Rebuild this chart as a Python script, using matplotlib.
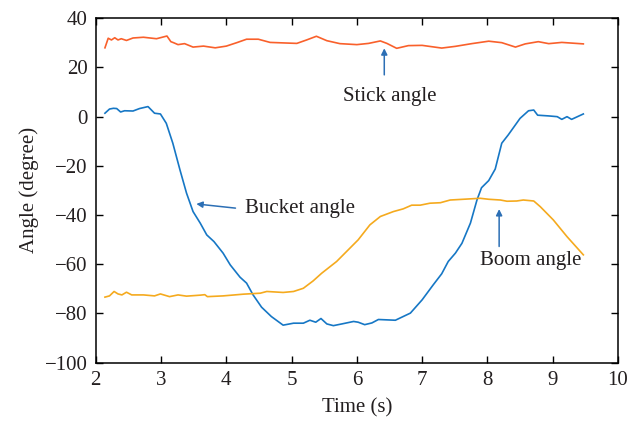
import numpy as np
import matplotlib.pyplot as plt

plt.rcParams['font.family'] = ['Liberation Serif', 'DejaVu Serif']

# stick angle (deg) vs time (s)
stick_t = [2.14, 2.19, 2.24, 2.29, 2.34, 2.39, 2.47, 2.57, 2.73, 2.93, 3.09, 3.15, 3.19, 3.26,
           3.36, 3.49, 3.65, 3.83, 4.00, 4.16, 4.31, 4.49, 4.67, 4.87, 5.08, 5.23, 5.38, 5.54,
           5.74, 6.00, 6.18, 6.36, 6.46, 6.61, 6.79, 7.00, 7.30, 7.51, 7.76, 8.02, 8.22, 8.43,
           8.58, 8.78, 8.94, 9.14, 9.47]
stick_a = [28.0, 31.9, 31.2, 32.1, 31.2, 31.7, 31.0, 32.0, 32.3, 31.7, 32.8, 30.5, 30.1, 29.3,
           29.7, 28.3, 28.7, 28.0, 28.7, 30.1, 31.5, 31.5, 30.2, 30.0, 29.8, 31.2, 32.7, 30.9,
           29.7, 29.3, 29.8, 30.8, 29.8, 27.8, 28.9, 29.0, 27.9, 28.6, 29.7, 30.7, 30.1, 28.3,
           29.6, 30.5, 29.7, 30.2, 29.6]

# bucket angle
bucket_t = [2.14, 2.21, 2.27, 2.32, 2.38, 2.44, 2.57, 2.67, 2.80, 2.90, 2.99, 3.08, 3.18, 3.29,
            3.39, 3.49, 3.60, 3.70, 3.81, 3.95, 4.06, 4.21, 4.31, 4.41, 4.54, 4.69, 4.87, 5.03,
            5.18, 5.28, 5.37, 5.45, 5.54, 5.64, 5.77, 5.95, 6.02, 6.12, 6.23, 6.33, 6.59, 6.82,
            7.00, 7.17, 7.30, 7.40, 7.51, 7.61, 7.74, 7.84, 7.91, 8.02, 8.12, 8.22, 8.32, 8.50,
            8.63, 8.71, 8.77, 8.94, 9.07, 9.14, 9.22, 9.29, 9.47]
bucket_a = [1.4, 3.1, 3.4, 3.3, 1.9, 2.4, 2.3, 3.3, 4.1, 1.4, 1.1, -2.7, -10.8, -21.7,
            -31.1, -38.6, -43.3, -48.1, -50.8, -55.5, -60.3, -65.3, -67.7, -72.5, -77.5, -81.3, -84.8, -84.0,
            -84.0, -82.8, -83.6, -82.1, -84.3, -85.0, -84.3, -83.3, -83.6, -84.6, -83.9, -82.5, -82.8, -79.9,
            -74.5, -68.4, -63.9, -58.9, -55.5, -51.5, -43.3, -33.9, -28.9, -26.0, -21.3, -10.8, -7.4, -0.7,
            2.4, 2.7, 0.6, 0.3, 0.0, -1.1, 0.0, -1.1, 1.1]

# boom angle
boom_t = [2.14, 2.21, 2.28, 2.34, 2.40, 2.47, 2.55, 2.73, 2.90, 2.99, 3.13, 3.26, 3.39, 3.60,
          3.67, 3.71, 3.95, 4.26, 4.52, 4.62, 4.87, 5.03, 5.18, 5.33, 5.46, 5.69, 5.84, 6.02,
          6.20, 6.36, 6.56, 6.71, 6.84, 6.97, 7.12, 7.28, 7.43, 7.63, 7.89, 8.02, 8.20, 8.30,
          8.45, 8.55, 8.71, 8.81, 9.01, 9.22, 9.47]
boom_a = [-73.4, -72.9, -71.1, -72.1, -72.5, -71.4, -72.5, -72.5, -72.9, -72.1, -73.2, -72.5, -73.0, -72.6,
          -72.4, -73.2, -72.9, -72.2, -71.8, -71.1, -71.5, -71.1, -69.8, -66.8, -63.7, -58.9, -54.9, -50.1,
          -44.0, -40.6, -38.6, -37.5, -36.0, -36.0, -35.2, -35.0, -33.9, -33.6, -33.2, -33.6, -33.9, -34.4,
          -34.3, -33.9, -34.3, -36.6, -42.0, -48.8, -56.2]

c_stick = '#F9602B'
c_bucket = '#1677C5'
c_boom = '#F5AA1E'
c_arrow = '#2C6FB5'
c_text = '#231F20'

fig = plt.figure(figsize=(6.43, 4.26), dpi=100)
ax = fig.add_axes([0.149, 0.149, 0.812, 0.808])

ax.plot(stick_t, stick_a, color=c_stick, lw=1.2)
ax.plot(bucket_t, bucket_a, color=c_bucket, lw=1.2)
ax.plot(boom_t, boom_a, color=c_boom, lw=1.2)

ax.set_xlim(2, 10)
ax.set_ylim(-100, 40)
ax.set_xticks(np.arange(2, 11, 1))
ax.set_yticks(np.arange(-100, 41, 20))
ax.tick_params(direction='in', top=True, right=True, length=5, width=1,
               labelsize=15, labelcolor=c_text, pad=6)
for s in ax.spines.values():
    s.set_linewidth(1.1)
ax.set_xlabel('Time (s)', fontsize=15, color=c_text, labelpad=6)
ax.set_ylabel('Angle (degree)', fontsize=15, color=c_text, labelpad=4)
ax.set_yticklabels(['\u2212100', '\u221280', '\u221260', '\u221240', '\u221220', '0', '20', '40'])

arrow = dict(arrowstyle='-|>', color=c_arrow, lw=1.1, mutation_scale=9, shrinkA=0, shrinkB=0)
ax.annotate('', xy=(6.42, 27.8), xytext=(6.42, 17.0), arrowprops=arrow)
ax.text(6.5, 8.0, 'Stick angle', fontsize=15, color=c_text, ha='center', va='center')

ax.annotate('', xy=(3.54, -35.5), xytext=(4.14, -37.2), arrowprops=arrow)
ax.text(4.28, -37.2, 'Bucket angle', fontsize=15, color=c_text, ha='left', va='center')

ax.annotate('', xy=(8.18, -37.6), xytext=(8.18, -52.8), arrowprops=arrow)
ax.text(8.67, -58.5, 'Boom angle', fontsize=15, color=c_text, ha='center', va='center')

fig.savefig('out.png', dpi=100)
